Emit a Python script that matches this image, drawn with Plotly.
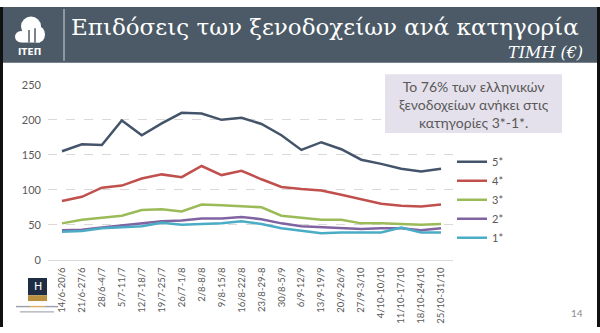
import plotly.graph_objects as go

categories = ["14/6-20/6", "21/6-27/6", "28/6-4/7", "5/7-11/7", "12/7-18/7", "19/7-25/7",
              "26/7-1/8", "2/8-8/8", "9/8-15/8", "16/8-22/8", "23/8-29-8", "30/8-5/9",
              "6/9-12/9", "13/9-19/9", "20/9-26/9", "27/9-3/10", "4/10-10/10",
              "11/10-17/10", "18/10-24/10", "25/10-31/10"]

s5 = [155, 165, 164, 199, 178, 195, 210, 209, 200, 203, 194, 178, 157, 168, 158, 143, 137, 130, 126, 130]
s4 = [84, 90, 103, 106, 116, 122, 118, 134, 121, 127, 115, 104, 101, 99, 93, 86, 80, 77, 76, 79]
s3 = [52, 57, 60, 63, 71, 72, 69, 79, 78, 76, 75, 63, 60, 57, 57, 52, 52, 51, 50, 51]
s2 = [42, 43, 46, 49, 53, 55, 56, 59, 59, 61, 58, 52, 48, 47, 45, 44, 45, 45, 42, 45]
s1 = [40, 41, 45, 46, 48, 53, 50, 51, 52, 55, 51, 45, 42, 38, 39, 39, 39, 46, 39, 39]

series_names = ["5*", "4*", "3*", "2*", "1*"]
series_vals = [s5, s4, s3, s2, s1]
colors = ["#44546a", "#c0504d", "#9bbb59", "#8064a2", "#4bacc6"]

W, H = 600, 333

def px(x):
    return x / W

def py(y):
    return 1 - y / H

fig = go.Figure()
for name, vals, col in zip(series_names, series_vals, colors):
    fig.add_trace(go.Scatter(x=list(range(len(categories))), y=vals, name=name, mode="lines",
                             line=dict(color=col, width=2.5)))

HEADER = "#4b5a66"
shapes = [
    dict(type="rect", xref="paper", yref="paper", x0=0, x1=1, y0=py(58), y1=1,
         fillcolor=HEADER, line=dict(width=0), layer="below"),
    dict(type="line", xref="paper", yref="paper", x0=px(64), x1=px(64), y0=py(56), y1=py(2),
         line=dict(color="#d0d5d9", width=1)),
    dict(type="rect", xref="paper", yref="paper", x0=0, x1=px(3), y0=0, y1=1,
         fillcolor="#111111", line=dict(width=0)),
    dict(type="rect", xref="paper", yref="paper", x0=px(597), x1=1, y0=0, y1=1,
         fillcolor="#111111", line=dict(width=0)),
    # logo icon
    dict(type="circle", xref="paper", yref="paper", x0=px(15), x1=px(27), y0=py(37), y1=py(25),
         fillcolor="white", line=dict(width=0)),
    dict(type="rect", xref="paper", yref="paper", x0=px(22), x1=px(40), y0=py(37), y1=py(20),
         fillcolor="white", line=dict(width=0)),
    dict(type="circle", xref="paper", yref="paper", x0=px(21), x1=px(41), y0=py(30), y1=py(10),
         fillcolor="white", line=dict(width=0)),
    dict(type="circle", xref="paper", yref="paper", x0=px(31), x1=px(45), y0=py(37), y1=py(20),
         fillcolor="white", line=dict(width=0)),
    dict(type="line", xref="paper", yref="paper", x0=px(29), x1=px(29), y0=py(37), y1=py(24),
         line=dict(color=HEADER, width=1.5)),
    dict(type="line", xref="paper", yref="paper", x0=px(35), x1=px(35), y0=py(37), y1=py(22),
         line=dict(color=HEADER, width=1.5)),
    # annotation box
    dict(type="rect", xref="paper", yref="paper", x0=px(385), x1=px(562), y0=py(131), y1=py(70),
         fillcolor="#e5e1ec", line=dict(width=0)),
    # bottom-left logo
    dict(type="rect", xref="paper", yref="paper", x0=px(28), x1=px(47), y0=py(300), y1=py(282),
         fillcolor="#1f2d44", line=dict(width=0)),
    dict(type="rect", xref="paper", yref="paper", x0=px(28), x1=px(47), y0=py(306), y1=py(300),
         fillcolor="#b89040", line=dict(width=0)),
    dict(type="rect", xref="paper", yref="paper", x0=px(16), x1=px(30), y0=py(312.5), y1=py(311),
         fillcolor="#9aa0aa", line=dict(width=0)),
    dict(type="rect", xref="paper", yref="paper", x0=px(30), x1=px(45), y0=py(312.5), y1=py(311),
         fillcolor="#d8b060", line=dict(width=0)),
    dict(type="rect", xref="paper", yref="paper", x0=px(45), x1=px(58), y0=py(312.5), y1=py(311),
         fillcolor="#9aa0aa", line=dict(width=0)),
    dict(type="rect", xref="paper", yref="paper", x0=px(20), x1=px(54), y0=py(318), y1=py(316.5),
         fillcolor="#a8adb5", line=dict(width=0)),
]

annotations = [
    dict(text="Επιδόσεις των ξενοδοχείων ανά κατηγορία", xref="paper", yref="paper",
         x=px(69), y=py(21), xanchor="left", yanchor="middle", showarrow=False,
         font=dict(family="DejaVu Serif", size=23, color="white")),
    dict(text="<i>ΤΙΜΗ (€)</i>", xref="paper", yref="paper",
         x=px(585), y=py(47), xanchor="right", yanchor="middle", showarrow=False,
         font=dict(family="DejaVu Serif", size=16, color="white")),
    dict(text="<b>ITEΠ</b>", xref="paper", yref="paper",
         x=px(29), y=py(47), xanchor="center", yanchor="middle", showarrow=False,
         font=dict(family="DejaVu Sans", size=9, color="white")),
    dict(text="Το 76% των ελληνικών<br>ξενοδοχείων ανήκει στις<br>κατηγορίες 3*-1*.",
         xref="paper", yref="paper", x=px(473.5), y=py(101), xanchor="center", yanchor="middle",
         showarrow=False, align="center",
         font=dict(family="Lato", size=14, color="#595959")),
    dict(text="H", xref="paper", yref="paper", x=px(37.5), y=py(291), xanchor="center",
         yanchor="middle", showarrow=False, font=dict(family="DejaVu Sans", size=11, color="white")),
    dict(text="14", xref="paper", yref="paper", x=px(577), y=py(318), xanchor="center",
         yanchor="middle", showarrow=False, font=dict(family="Lato", size=10, color="#8c8c8c")),
]

fig.update_layout(
    width=W, height=H,
    margin=dict(l=0, r=0, t=0, b=0),
    paper_bgcolor="white", plot_bgcolor="white",
    showlegend=True,
    legend=dict(x=px(452), y=py(146), xanchor="left", yanchor="top",
                font=dict(family="Lato", size=11, color="#595959"),
                bgcolor="rgba(0,0,0,0)", tracegroupgap=0),
    shapes=shapes,
    annotations=annotations,
    xaxis=dict(domain=[px(48), px(453)], range=[-0.7, 19.6],
               tickmode="array", tickvals=list(range(len(categories))), ticktext=categories,
               tickangle=-90, tickfont=dict(family="Lato", size=9.5, color="#595959"),
               showgrid=False, zeroline=False, showline=True, linecolor="#d9d9d9",
               linewidth=1, ticks="", anchor="y", ticklabelstandoff=3),
    yaxis=dict(domain=[py(263), py(81)], range=[0, 250], tickvals=[0, 50, 100, 150, 200, 250],
               tickfont=dict(family="Lato", size=11, color="#595959"),
               showgrid=True, gridcolor="#d9d9d9", griddash="dash", gridwidth=1,
               zeroline=False, showline=False, ticks="", ticklabelstandoff=6),
)

fig.write_html("out.html")
